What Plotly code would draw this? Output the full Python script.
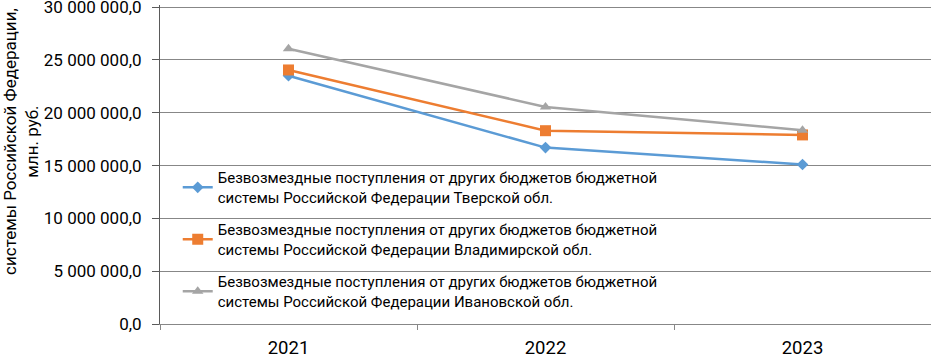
import plotly.graph_objects as go

years = ["2021", "2022", "2023"]
tver = [23500000, 16700000, 15100000]
vladimir = [24050000, 18300000, 17900000]
ivanovo = [26050000, 20550000, 18350000]

names = [
    "Безвозмездные поступления от других бюджетов бюджетной<br>системы Российской Федерации Тверской обл.",
    "Безвозмездные поступления от других бюджетов бюджетной<br>системы Российской Федерации Владимирской обл.",
    "Безвозмездные поступления от других бюджетов бюджетной<br>системы Российской Федерации Ивановской обл.",
]
tick_vals = [0, 5000000, 10000000, 15000000, 20000000, 25000000, 30000000]
tick_text = ["0,0", "5 000 000,0", "10 000 000,0", "15 000 000,0", "20 000 000,0", "25 000 000,0", "30 000 000,0"]

FONT = "Roboto"
fig = go.Figure()
series = [
    (tver, "#5B9BD5", "diamond", 9),
    (vladimir, "#ED7D31", "square", 11),
    (ivanovo, "#A5A5A5", "triangle-up", 10),
]
for i, (vals, col, sym, sz) in enumerate(series):
    fig.add_trace(go.Scatter(
        x=years, y=vals, name=names[i], mode="lines+markers",
        line=dict(color=col, width=2.5),
        marker=dict(symbol=sym, size=sz, color=col),
        legendgroup=f"g{i}",
    ))

fig.update_layout(
    width=931, height=358,
    margin=dict(l=160, r=0, t=5, b=34),
    paper_bgcolor="white", plot_bgcolor="white",
    font=dict(family=FONT, color="#000000"),
    showlegend=True,
    legend=dict(
        x=0.023, y=0.51, xanchor="left", yanchor="top",
        bgcolor="rgba(0,0,0,0)", font=dict(family=FONT, size=15, color="#000000"),
        traceorder="grouped", tracegroupgap=10,
    ),
    xaxis=dict(
        type="category", range=[-0.5, 2.5], automargin=False,
        showgrid=False, showline=True, linecolor="#878787", linewidth=1,
        ticks="outside", tickson="boundaries", ticklen=5, tickcolor="#878787",
        ticklabelstandoff=7,
        tickfont=dict(family=FONT, size=18.5, color="#000000"),
    ),
    yaxis=dict(
        range=[0, 30200000], tickvals=tick_vals, ticktext=tick_text, automargin=False,
        showgrid=True, gridcolor="#878787", gridwidth=1,
        showline=True, linecolor="#5a5a5a", linewidth=1,
        ticks="outside", ticklen=7, tickcolor="#5a5a5a",
        ticklabelstandoff=7, ticklabeloverflow="allow",
        tickfont=dict(family=FONT, size=17, color="#000000"),
        zeroline=False,
    ),
    annotations=[dict(
        text="системы Российской Федерации,<br>млн. руб.",
        xref="paper", yref="paper", x=-0.181, y=0.572,
        xanchor="center", yanchor="middle", textangle=-90,
        showarrow=False, font=dict(family=FONT, size=17, color="#000000"),
    )],
)

fig.write_html(
    "out.html",
    config={"displayModeBar": False},
    post_script="document.body.style.margin='0';document.body.style.overflow='hidden';",
)
